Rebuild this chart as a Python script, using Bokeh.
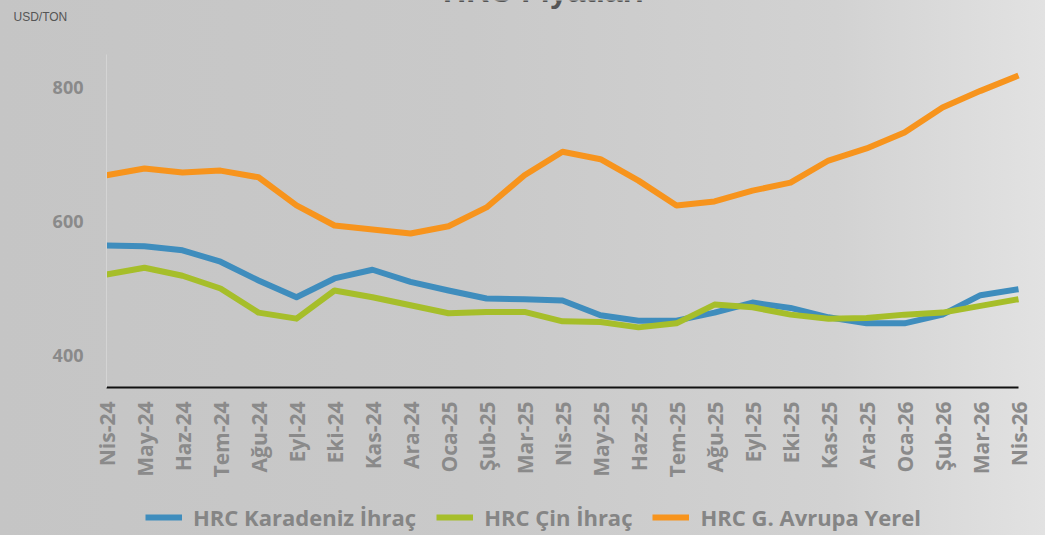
from bokeh.plotting import figure
from bokeh.models import Range1d, FixedTicker, Legend, LegendItem, Label
from bokeh.embed import file_html
from bokeh.resources import INLINE
import math

months = ["Nis-24", "May-24", "Haz-24", "Tem-24", "Ağu-24", "Eyl-24", "Eki-24", "Kas-24",
          "Ara-24", "Oca-25", "Şub-25", "Mar-25", "Nis-25", "May-25", "Haz-25", "Tem-25",
          "Ağu-25", "Eyl-25", "Eki-25", "Kas-25", "Ara-25", "Oca-26", "Şub-26", "Mar-26", "Nis-26"]

karadeniz = [564, 563, 557, 540, 512, 487, 515, 528, 510, 497, 485, 484, 482, 460, 452, 452,
             464, 479, 471, 457, 448, 448, 461, 490, 499]
cin = [521, 531, 519, 500, 464, 455, 497, 487, 475, 463, 465, 465, 451, 450, 442, 448,
       476, 472, 461, 455, 456, 461, 464, 474, 484]
avrupa = [669, 679, 673, 676, 666, 624, 594, 588, 582, 593, 621, 669, 704, 693, 661, 624,
          630, 646, 658, 691, 709, 733, 770, 795, 818]

series_names = ["HRC Karadeniz İhraç", "HRC Çin İhraç", "HRC G. Avrupa Yerel"]
colors = ["#3F8DBD", "#A6BE2A", "#F7941D"]
y_ticks = [400, 600, 800]

x = list(range(len(months)))

W, H = 1045, 535
# the plotting frame fills the whole canvas; axes are pinned with fixed_location
PX_X = 38.0          # pixels per month
PX_Y = 0.67          # pixels per USD
x0 = -106 / PX_X
y_top = 800 + 87 / PX_Y
y_axis_val = y_top - 387 / PX_Y
p = figure(width=W, height=H, output_backend="svg", toolbar_location=None,
           x_range=Range1d(x0, x0 + W / PX_X), y_range=Range1d(y_top - H / PX_Y, y_top),
           min_border=0)
p.background_fill_alpha = 0
p.border_fill_alpha = 0
p.outline_line_color = None
p.grid.grid_line_color = None

font = "Open Sans"
lbl_color = "#8a8a8a"

xa = p.xaxis[0]
xa.fixed_location = y_axis_val
xa.bounds = (0, len(months) - 1)
xa.ticker = FixedTicker(ticks=x)
xa.major_label_overrides = {i: m for i, m in enumerate(months)}
xa.major_label_orientation = math.pi / 2
xa.major_label_text_font = font
xa.major_label_text_font_style = "bold"
xa.major_label_text_font_size = "21px"
xa.major_label_text_color = lbl_color
xa.major_tick_line_color = None
xa.minor_tick_line_color = None
xa.axis_line_color = "#111111"
xa.axis_line_width = 2
xa.major_label_standoff = 8

ya = p.yaxis[0]
ya.fixed_location = 0
ya.bounds = (y_axis_val, 850)
ya.ticker = FixedTicker(ticks=y_ticks)
ya.major_label_text_font = font
ya.major_label_text_font_style = "bold"
ya.major_label_text_font_size = "18px"
ya.major_label_text_color = lbl_color
ya.major_tick_line_color = None
ya.minor_tick_line_color = None
ya.axis_line_color = "#d4d4d4"
ya.axis_line_width = 1
ya.major_label_standoff = 17

renderers = []
for vals, c in zip([karadeniz, cin, avrupa], colors):
    r = p.line(x, vals, line_color=c, line_width=6, line_join="round")
    renderers.append(r)

legend = Legend(items=[LegendItem(label=n, renderers=[r]) for n, r in zip(series_names, renderers)],
                orientation="horizontal", location=(145, 3))
legend.background_fill_alpha = 0
legend.border_line_alpha = 0
legend.label_text_font = font
legend.label_text_font_style = "bold"
legend.label_text_font_size = "22px"
legend.label_text_color = "#858585"
legend.glyph_width = 37
legend.glyph_height = 26
legend.label_standoff = 11
legend.spacing = 20
legend.padding = 0
legend.margin = 0
p.add_layout(legend, "center")

p.add_layout(Label(x=13, y=H - 16, x_units="screen", y_units="screen", text="USD/TON",
                   text_font="Liberation Sans", text_font_size="12px", text_color="#555555",
                   text_baseline="middle"))
p.add_layout(Label(x=543, y=H - 8, x_units="screen", y_units="screen", text="HRC Fiyatları",
                   text_font="Liberation Sans", text_font_style="bold", text_font_size="32px",
                   text_color="#555555", text_align="center", text_baseline="bottom"))

html = file_html(p, INLINE)
i = html.rfind("<body>")
html = html[:i] + '<body style="margin:0; background: linear-gradient(90deg, #c5c5c5 0%, #c9c9c9 45%, #d2d2d2 80%, #e2e2e2 100%);">' + html[i + len("<body>"):]
open("out.html", "w").write(html)
